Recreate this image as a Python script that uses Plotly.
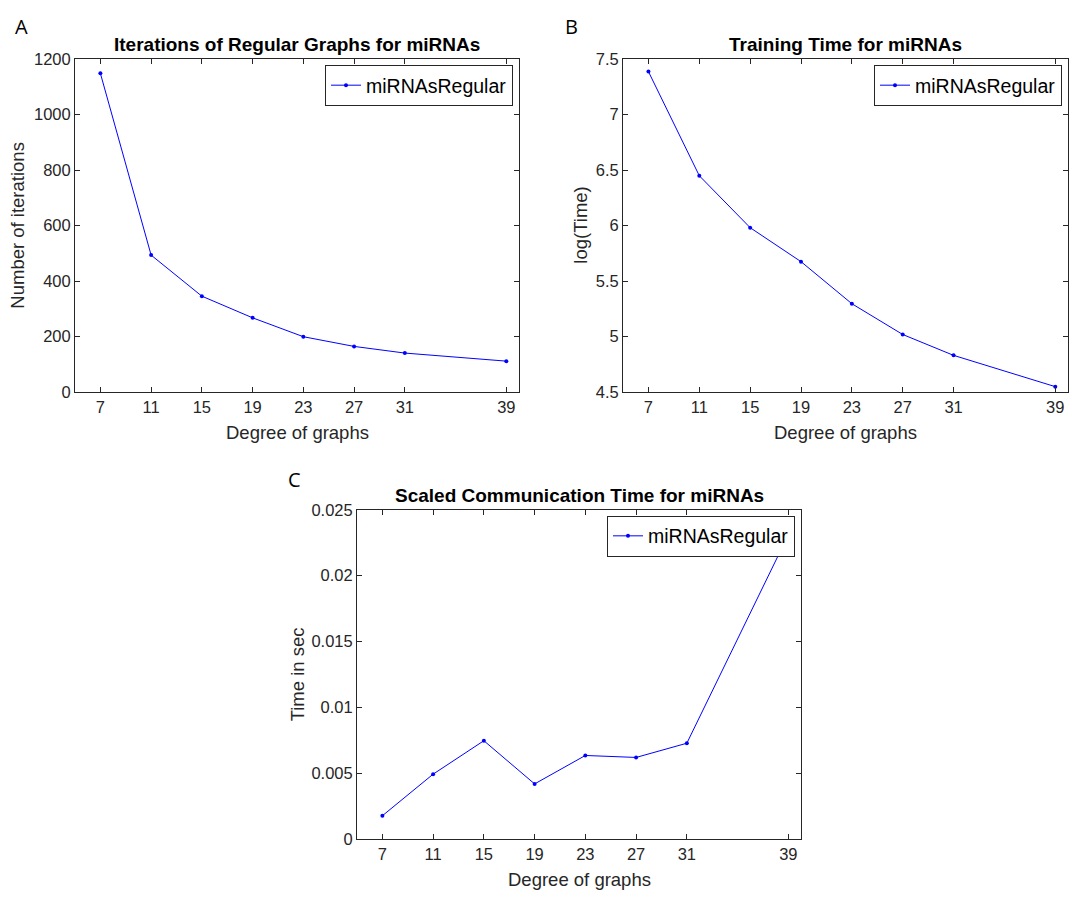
import plotly.graph_objects as go

# The page body has an 8px margin; the figure is sized to fit the window exactly.
OFF = 8
W, H = 1077 - 2 * OFF, 902 - 2 * OFF

degrees = [7, 11, 15, 19, 23, 27, 31, 39]
iterations = [1149, 494, 346, 268, 200, 165, 141, 112]
log_time = [7.388, 6.45, 5.982, 5.676, 5.297, 5.02, 4.832, 4.55]
comm_time = [0.00176, 0.00492, 0.00746, 0.00418, 0.00634, 0.00619, 0.00727, 0.0231]

series_name = "miRNAsRegular"
titles = ["Iterations of Regular Graphs for miRNAs", "Training Time for miRNAs",
          "Scaled Communication Time for miRNAs"]
ytitles = ["Number of iterations", "log(Time)", "Time in sec"]
xtitle = "Degree of graphs"
panel_letters = ["A", "B", "C"]

yticks_a = [0, 200, 400, 600, 800, 1000, 1200]
yticks_b = [4.5, 5, 5.5, 6, 6.5, 7, 7.5]
yticks_c = [0, 0.005, 0.01, 0.015, 0.02, 0.025]
ytick_text_c = ["0", "0.005", "0.01", "0.015", "0.02", "0.025"]

# pixel boxes in window coordinates (left, right, top, bottom)
boxes = [(75, 519, 51, 391), (623, 1068, 51, 391), (357, 801, 511, 847)]

TXT = "#262626"
FONT = "Liberation Sans, Arial, sans-serif"

def px(x):
    return (x - OFF) / W

def py(y):
    return 1 - (y - OFF) / H

fig = go.Figure()
ydata = [iterations, log_time, comm_time]
yranges = [[0, 1200], [4.5, 7.5], [0, 0.025]]
ytickvals = [yticks_a, yticks_b, yticks_c]
yticktexts = [[str(v) for v in yticks_a], [str(v) for v in yticks_b], ytick_text_c]

layout = dict(
    width=W, height=H, margin=dict(l=0, r=0, t=0, b=0),
    paper_bgcolor="white", plot_bgcolor="white",
    font=dict(family=FONT, color=TXT, size=16),
    showlegend=True,
)
annotations = []
for i in range(3):
    l, r, t, b = boxes[i]
    sfx = "" if i == 0 else str(i + 1)
    leg = "legend" if i == 0 else f"legend{i + 1}"
    fig.add_trace(go.Scatter(
        x=degrees, y=ydata[i], mode="lines+markers", name=series_name,
        line=dict(color="#0000ff", width=1),
        marker=dict(color="#0000ff", size=4),
        xaxis="x" + sfx, yaxis="y" + sfx, legend=leg, showlegend=True,
    ))
    axcommon = dict(showline=True, linecolor=TXT, linewidth=1, mirror="ticks",
                    ticks="inside", ticklen=5, tickcolor=TXT, showgrid=False,
                    zeroline=False, tickfont=dict(family=FONT, size=16.5, color=TXT))
    layout["xaxis" + sfx] = dict(domain=[px(l), px(r)], anchor="y" + sfx,
                                 range=[5, 40], tickvals=degrees,
                                 ticktext=[str(d) for d in degrees], **axcommon)
    layout["yaxis" + sfx] = dict(domain=[py(b), py(t)], anchor="x" + sfx,
                                 range=yranges[i], tickvals=ytickvals[i],
                                 ticktext=yticktexts[i], **axcommon)
    layout[leg] = dict(x=px(r - 6), y=py(t + 6), xanchor="right", yanchor="top",
                       bgcolor="white", bordercolor=TXT, borderwidth=1,
                       font=dict(family=FONT, size=19.5, color="black"),
                       itemwidth=30, tracegroupgap=0)
    cx = (l + r) / 2
    annotations.append(dict(x=px(cx), y=py(t - 15), xref="paper", yref="paper",
                            text="<b>" + titles[i] + "</b>", showarrow=False,
                            font=dict(family=FONT, size=19, color="black"),
                            xanchor="center", yanchor="middle"))
    annotations.append(dict(x=px(cx), y=py(b + 41), xref="paper", yref="paper",
                            text=xtitle, showarrow=False,
                            font=dict(family=FONT, size=18.5, color=TXT),
                            xanchor="center", yanchor="middle"))
    ylab_x = [18, 581, 297][i]
    annotations.append(dict(x=px(ylab_x), y=py((t + b) / 2), xref="paper", yref="paper",
                            text=ytitles[i], showarrow=False, textangle=-90,
                            font=dict(family=FONT, size=18.5, color=TXT),
                            xanchor="center", yanchor="middle"))

letter_pos = [(21, 18), (571, 18), (294, 480)]
for (lx, ly), letter in zip(letter_pos, panel_letters):
    annotations.append(dict(x=px(lx), y=py(ly), xref="paper", yref="paper",
                            text=letter, showarrow=False,
                            font=dict(family="Open Sans, sans-serif", size=20, color="black"),
                            xanchor="center", yanchor="middle"))

layout["annotations"] = annotations
fig.update_layout(**layout)
fig.write_html("out.html")
